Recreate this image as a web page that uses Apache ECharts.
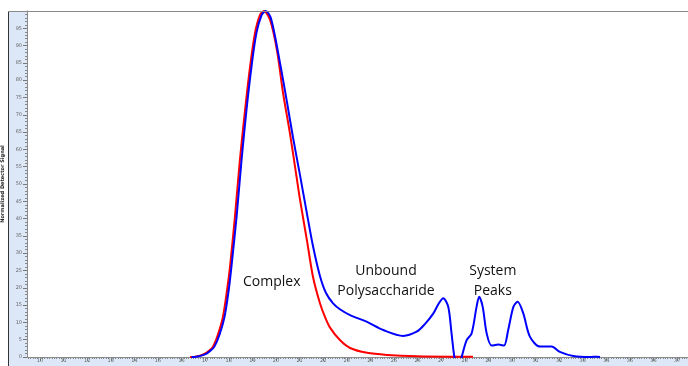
<!DOCTYPE html>
<html>
<head>
<meta charset="utf-8">
<script src="https://cdn.jsdelivr.net/npm/echarts@6/dist/echarts.min.js"></script>
<style>html,body{margin:0;padding:0;background:#fff}#c{width:688px;height:366px}</style>
</head>
<body>
<div id="c"></div>
<script>
// Time axis (min) and normalized detector signal
const redTime = [16.36,16.57,16.78,16.99,17.16,17.33,17.54,17.75,17.92,18.05,18.26,18.47,18.69,18.90,19.11,19.32,19.49,19.75,20.04,20.30,20.59,20.81,21.02,21.31,21.57,21.86,22.08,22.29,22.71,23.14,23.86,24.70,25.97,27.37,28.35];
const redValue = [0.0,0.1,0.4,1.0,1.8,3.0,6.5,11.6,19.0,26.0,40.5,56.9,71.4,83.8,93.6,98.8,100.0,97.4,88.7,76.3,64.7,54.9,45.4,33.8,23.1,15.6,11.5,8.5,4.9,2.6,1.2,0.6,0.2,0.1,0.1];

const blueTime = [16.42,16.63,16.84,17.06,17.22,17.39,17.61,17.82,17.99,18.11,18.33,18.54,18.75,18.96,19.17,19.39,19.56,19.79,20.17,20.47,20.72,21.02,21.31,21.57,21.86,22.12,22.42,22.71,23.14,23.84,24.55,25.39,25.96,26.31,26.67,26.91,27.09,27.30,27.44,27.56,27.67,27.75,27.87,28.08,28.29,28.50,28.61,28.76,28.93,29.14,29.42,29.66,29.84,30.06,30.24,30.48,30.76,31.19,31.68,32.03,32.60,33.31,33.59,33.73];
const blueValue = [0.0,0.1,0.4,1.0,1.8,3.0,6.5,11.6,19.0,26.0,40.5,56.9,71.4,83.8,93.6,98.8,100.0,97.8,85.0,73.5,63.5,52.5,41.5,32.0,23.5,18.5,15.5,13.8,12.1,10.2,7.8,6.1,7.3,9.5,12.6,15.6,17.0,14.5,6.8,0.0,-3,-3,0.0,4.9,6.8,14.5,17.4,14.5,6.8,3.3,3.6,3.3,7.8,14.5,16.0,12.6,5.9,3.0,3.0,1.5,0.3,0.0,0.1,0.0];

const xTickLabels = [10,11,12,13,14,15,16,17,18,19,20,21,22,23,24,25,26,27,28,29,30,31,32,33,34,35,36,37];

const annotations = [
  {text: 'Complex', x: 19.82, y: 21.7},
  {text: 'Unbound\nPolysaccharide', x: 24.66, y: 22.0},
  {text: 'System\nPeaks', x: 29.19, y: 22.0}
];

const xMin = 9.449, xMax = 37.46;
const minorX = [];
for (let i = Math.ceil(xMin * 10); i <= Math.floor(xMax * 10); i++) minorX.push(i / 10);

const redData = redTime.map((t, i) => [t, redValue[i]]);
const blueData = blueTime.map((t, i) => [t, blueValue[i]]);

const chart = echarts.init(document.getElementById('c'), null, {renderer: 'canvas'});
const band = '#dce8f8';
chart.setOption({
  animation: false,
  backgroundColor: '#ffffff',
  grid: {left: 27, right: 0, top: 11, bottom: 9, containLabel: false, outerBoundsMode: 'none'},
  graphic: [
    {type: 'rect', z: -10, shape: {x: 8, y: 11, width: 19, height: 355}, style: {fill: band}},
    {type: 'rect', z: -10, shape: {x: 27, y: 357, width: 661, height: 9}, style: {fill: band}},
    {type: 'line', z: 10, shape: {x1: 8.5, y1: 11, x2: 8.5, y2: 366}, style: {stroke: '#333', lineWidth: 1}},
    {type: 'line', z: 10, shape: {x1: 8, y1: 11.5, x2: 688, y2: 11.5}, style: {stroke: '#8a8a8a', lineWidth: 1}}
  ],
  xAxis: [
    {
      type: 'value', min: xMin, max: xMax,
      axisLine: {show: true, lineStyle: {color: '#8a8a8a', width: 1}},
      axisTick: {show: true, customValues: xTickLabels, length: 4, lineStyle: {color: '#777'}},
      axisLabel: {show: true, customValues: xTickLabels, fontSize: 5, color: '#666', margin: 1, fontFamily: 'DejaVu Sans'},
      splitLine: {show: false}
    },
    {
      type: 'value', min: xMin, max: xMax, gridIndex: 0,
      position: 'bottom',
      axisLine: {show: false},
      axisTick: {show: true, customValues: minorX, length: 2, lineStyle: {color: '#888'}},
      axisLabel: {show: false},
      splitLine: {show: false}
    }
  ],
  yAxis: {
    type: 'value', min: 0, max: 100, interval: 5,
    name: 'Normalized Detector Signal',
    nameLocation: 'middle', nameRotate: 90, nameGap: 15,
    nameTextStyle: {fontSize: 5, fontWeight: 'bold', color: '#222', fontFamily: 'DejaVu Sans'},
    axisLine: {show: true, lineStyle: {color: '#8a8a8a', width: 1}},
    axisTick: {show: true, length: 4, lineStyle: {color: '#777'}},
    minorTick: {show: true, splitNumber: 5, length: 2, lineStyle: {color: '#888'}},
    axisLabel: {fontSize: 5, color: '#666', margin: 5, fontFamily: 'DejaVu Sans', showMaxLabel: false,
      formatter: v => (v >= 100 ? '' : String(v))},
    splitLine: {show: false}
  },
  series: [
    {
      type: 'line', data: redData, smooth: 0.3, symbol: 'none', clip: true,
      lineStyle: {color: '#ff0000', width: 2}, z: 2
    },
    {
      type: 'line', data: blueData, smooth: 0.3, symbol: 'none', clip: true,
      lineStyle: {color: '#0000ff', width: 2}, z: 3,
      markPoint: {
        symbol: 'circle', symbolSize: 0, silent: true,
        label: {show: true, position: 'inside', color: '#111', fontSize: 14, lineHeight: 20,
          fontFamily: 'Open Sans', formatter: p => p.name},
        data: annotations.map(a => ({name: a.text, coord: [a.x, a.y], value: 0}))
      }
    }
  ]
});
</script>
</body>
</html>
